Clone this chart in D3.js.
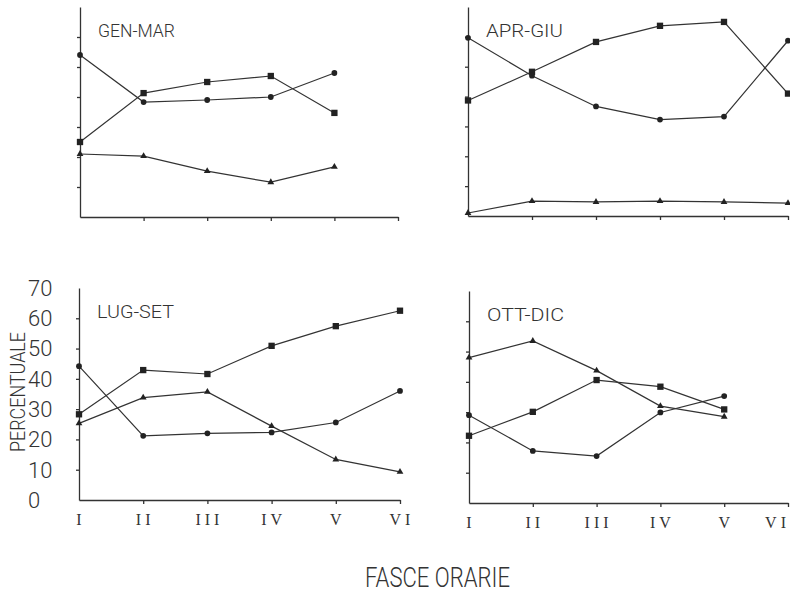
<!DOCTYPE html>
<html>
<head>
<meta charset="utf-8">
<script src="https://cdn.jsdelivr.net/npm/d3@7"></script>
<style>
  body { margin: 0; background: #fff; }
  svg { display: block; }
  .axis path, .axis line { stroke: #333; stroke-width: 1.3; }
  .series { fill: none; stroke: #333; stroke-width: 1.2; }
</style>
</head>
<body>
<svg width="790" height="594"></svg>
<script>
// fasce orarie (x categories)
var periods = ['I', 'II', 'III', 'IV', 'V', 'VI'];
var panelTitles = ['GEN-MAR', 'APR-GIU', 'LUG-SET', 'OTT-DIC'];
var yTicks = [0, 10, 20, 30, 40, 50, 60, 70];

// one array per panel (percent)
var squareSeries = [
    [25, 41.3, 45, 47, 34.7],
    [38.7, 48.3, 58.3, 63.7, 65, 41],
    [28.3, 42.9, 41.6, 50.9, 57.4, 62.5],
    [22.2, 30.1, 40.6, 38.4, 30.9]
];
var circleSeries = [
    [54, 38.3, 39, 40, 48],
    [59.7, 47, 36.7, 32.3, 33.3, 58.7],
    [44.2, 21.2, 22, 22.3, 25.6, 36],
    [29, 17.2, 15.5, 29.9, 35.3]
];
var triangleSeries = [
    [21, 20.3, 15.3, 11.6, 16.7],
    [1, 5, 4.7, 5, 4.7, 4.3],
    [25.3, 33.8, 35.7, 24.4, 13.4, 9.3],
    [48, 53.5, 43.7, 32, 28.5]
];

var svg = d3.select('svg');

// panel frames: left/right edge of x axis, pixel of 0 and 70
var panels = [
    {x0: 80, x1: 398, yBottom: 217, yTop: 7},
    {x0: 468, x1: 788, yBottom: 216, yTop: 7},
    {x0: 79, x1: 400, yBottom: 500, yTop: 288},
    {x0: 469, x1: 788, yBottom: 503, yTop: 291}
];

var titleFont = 'Roboto, "DejaVu Sans", sans-serif';

panels.forEach(function(p, i) {
    var x = d3.scalePoint().domain(periods).range([p.x0, p.x1]);
    var y = d3.scaleLinear().domain([0, 70]).range([p.yBottom, p.yTop]);
    var g = svg.append('g').attr('class', 'panel');
    var bottomRow = i >= 2;

    // x axis
    var xAxis = d3.axisBottom(x)
        .tickValues(periods.slice(1))
        .tickSize(4)
        .tickSizeOuter(0)
        .tickFormat('');
    g.append('g')
        .attr('class', 'axis x')
        .attr('transform', 'translate(0,' + p.yBottom + ')')
        .call(xAxis);

    if (bottomRow) {
        g.selectAll('.xlabel')
            .data(periods)
            .enter()
            .append('text')
            .attr('class', 'xlabel')
            .attr('x', function(d) {
                // keep the last label inside the page on the right
                return x(d) + 2 > 780 ? 790 : x(d) + 2;
            })
            .attr('y', p.yBottom + 25)
            .attr('text-anchor', function(d) { return x(d) + 2 > 780 ? 'end' : 'middle'; })
            .style('font-family', '"Liberation Serif", serif')
            .style('font-size', '16px')
            .style('letter-spacing', '4px')
            .style('fill', '#333')
            .text(function(d) { return d; });
    }

    // y axis
    var yAxis = d3.axisLeft(y)
        .tickValues(yTicks.slice(1, -1))
        .tickSize(3)
        .tickSizeOuter(0)
        .tickFormat('');
    g.append('g')
        .attr('class', 'axis y')
        .attr('transform', 'translate(' + p.x0 + ',0)')
        .call(yAxis);

    if (i === 2) {
        g.selectAll('.ylabel')
            .data(yTicks)
            .enter()
            .append('text')
            .attr('class', 'ylabel')
            .attr('x', 28)
            .attr('y', function(d) { return y(d); })
            .attr('dy', '0.36em')
            .style('font-family', titleFont)
            .style('font-weight', 300)
            .style('font-size', '22px')
            .style('fill', '#333')
            .text(function(d) { return d; });
    }

    // title
    g.append('text')
        .attr('x', p.x0 + 18)
        .attr('y', p.yTop + 30)
        .attr('textLength', 77)
        .attr('lengthAdjust', 'spacingAndGlyphs')
        .style('font-family', titleFont)
        .style('font-weight', 300)
        .style('font-size', '18px')
        .style('fill', '#333')
        .text(panelTitles[i]);

    var line = d3.line()
        .x(function(d, k) { return x(periods[k]); })
        .y(function(d) { return y(d); });

    var series = [
        {values: squareSeries[i], shape: d3.symbolSquare, size: 40},
        {values: circleSeries[i], shape: d3.symbolCircle, size: 26},
        {values: triangleSeries[i], shape: d3.symbolTriangle, size: 20}
    ];

    series.forEach(function(s) {
        g.append('path')
            .attr('class', 'series')
            .attr('d', line(s.values));

        g.selectAll(null)
            .data(s.values)
            .enter()
            .append('path')
            .attr('d', d3.symbol().type(s.shape).size(s.size))
            .attr('transform', function(d, k) {
                return 'translate(' + [x(periods[k]), y(d)] + ')';
            })
            .style('fill', '#222');
    });
});

// shared axis titles
svg.append('text')
    .attr('transform', 'translate(25,392) rotate(-90)')
    .attr('text-anchor', 'middle')
    .attr('textLength', 120)
    .attr('lengthAdjust', 'spacingAndGlyphs')
    .style('font-family', titleFont)
    .style('font-weight', 300)
    .style('font-size', '20px')
    .style('fill', '#333')
    .text('PERCENTUALE');

svg.append('text')
    .attr('x', 365)
    .attr('y', 587)
    .attr('textLength', 145)
    .attr('lengthAdjust', 'spacingAndGlyphs')
    .style('font-family', titleFont)
    .style('font-weight', 300)
    .style('font-size', '28px')
    .style('fill', '#333')
    .text('FASCE  ORARIE');
</script>
</body>
</html>
